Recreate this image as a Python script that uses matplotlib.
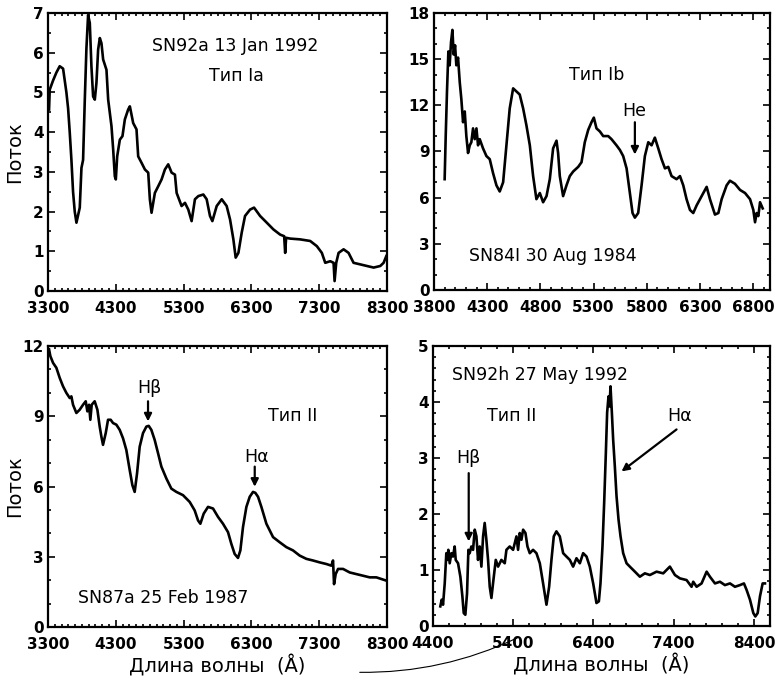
import matplotlib.pyplot as plt
from matplotlib.ticker import MultipleLocator, FixedLocator
from matplotlib.patches import FancyArrowPatch

# SN92a 13 Jan 1992, Тип Ia
wl_92a = [3315, 3325, 3374, 3423, 3472, 3522, 3571, 3596, 3620, 3645, 3669, 3694, 3719,
          3768, 3793, 3817, 3842, 3866, 3891, 3916, 3940, 3965, 3990, 4014, 4039, 4064,
          4088, 4113, 4162, 4187, 4236, 4261, 4285, 4300, 4320, 4359, 4398, 4433, 4482,
          4507, 4556, 4605, 4630, 4679, 4729, 4778, 4802, 4827, 4876, 4926, 4975, 5024,
          5073, 5123, 5172, 5197, 5270, 5320, 5369, 5418, 5467, 5517, 5591, 5640, 5689,
          5724, 5788, 5862, 5935, 5985, 6034, 6068, 6108, 6157, 6206, 6280, 6339, 6428,
          6527, 6625, 6724, 6783, 6798, 6812, 6871, 7019, 7167, 7265, 7339, 7389, 7463,
          7512, 7527, 7551, 7586, 7660, 7733, 7807, 7906, 8004, 8103, 8201, 8250, 8290]
fl_92a = [4.57, 5.07, 5.3, 5.5, 5.66, 5.6, 5.0, 4.6, 4.0, 3.3, 2.5, 2.0, 1.72,
          2.1, 3.1, 3.3, 4.8, 6.1, 6.95, 6.75, 5.66, 4.9, 4.82, 5.24, 6.08, 6.37,
          6.24, 5.83, 5.57, 4.82, 4.15, 3.56, 2.89, 2.81, 3.39, 3.81, 3.9, 4.32, 4.57,
          4.65, 4.23, 4.07, 3.39, 3.23, 3.06, 2.98, 2.31, 1.97, 2.47, 2.64, 2.81, 3.06,
          3.19, 2.98, 2.93, 2.47, 2.14, 2.22, 2.05, 1.76, 2.31, 2.39, 2.43, 2.31, 1.89,
          1.76, 2.14, 2.31, 2.14, 1.8, 1.3, 0.84, 0.96, 1.47, 1.89, 2.05, 2.1, 1.89,
          1.72, 1.55, 1.42, 1.38, 0.96, 1.34, 1.32, 1.3, 1.26, 1.13, 0.96, 0.71, 0.75,
          0.71, 0.25, 0.71, 0.96, 1.05, 0.96, 0.71, 0.67, 0.63, 0.59, 0.63, 0.71, 0.88]

# SN84I 30 Aug 1984, Тип Ib
wl_84i = [3900, 3910, 3922, 3935, 3947, 3960, 3973, 3985, 3998, 4010, 4026, 4042, 4057,
          4073, 4089, 4104, 4120, 4136, 4151, 4167, 4183, 4199, 4214, 4230, 4261, 4293,
          4324, 4355, 4387, 4418, 4450, 4481, 4512, 4544, 4575, 4606, 4638, 4669, 4701,
          4732, 4763, 4795, 4826, 4858, 4889, 4920, 4952, 4967, 4983, 5014, 5046, 5077,
          5109, 5156, 5187, 5218, 5250, 5281, 5303, 5328, 5360, 5391, 5438, 5469, 5516,
          5548, 5579, 5611, 5642, 5667, 5689, 5720, 5752, 5783, 5815, 5846, 5877, 5909,
          5940, 5972, 6003, 6034, 6081, 6113, 6144, 6175, 6207, 6238, 6270, 6317, 6364,
          6395, 6442, 6474, 6505, 6552, 6583, 6630, 6678, 6725, 6772, 6803, 6819, 6834,
          6850, 6866, 6891]
fl_84i = [7.2, 10.0, 12.9, 15.5, 14.6, 16.1, 16.9, 15.3, 15.9, 14.6, 15.1, 13.5, 12.4,
          10.9, 11.6, 10.0, 8.9, 9.4, 9.6, 10.5, 9.8, 10.5, 9.4, 9.8, 9.2, 8.7,
          8.5, 7.6, 6.8, 6.4, 7.0, 9.4, 11.8, 13.1, 12.9, 12.7, 11.8, 10.7, 9.4,
          7.4, 5.9, 6.3, 5.7, 6.1, 7.2, 9.2, 9.7, 8.9, 7.4, 6.1, 6.8, 7.4,
          7.7, 8.0, 8.3, 9.6, 10.4, 10.9, 11.2, 10.5, 10.3, 10.0, 10.0, 9.8, 9.4,
          9.1, 8.7, 7.9, 6.3, 5.0, 4.7, 5.0, 6.8, 8.7, 9.6, 9.4, 9.9, 9.2,
          8.5, 7.9, 8.0, 7.4, 7.2, 7.4, 6.8, 5.9, 5.2, 5.0, 5.5, 6.1, 6.7,
          5.9, 4.9, 5.0, 5.9, 6.8, 7.1, 6.9, 6.5, 6.3, 5.9, 5.2, 4.4, 5.0,
          4.8, 5.7, 5.3]

# SN87a 25 Feb 1987, Тип II
wl_87a = [3315, 3334, 3374, 3423, 3472, 3521, 3570, 3620, 3644, 3669, 3718, 3767, 3816,
          3856, 3880, 3905, 3924, 3944, 3988, 4028, 4062, 4087, 4111, 4151, 4185, 4224,
          4259, 4308, 4357, 4406, 4455, 4505, 4544, 4578, 4613, 4652, 4701, 4751, 4785,
          4824, 4873, 4923, 4972, 5046, 5119, 5193, 5291, 5390, 5463, 5513, 5547, 5596,
          5660, 5734, 5808, 5881, 5955, 6004, 6053, 6102, 6137, 6176, 6226, 6275, 6324,
          6358, 6398, 6447, 6521, 6619, 6717, 6816, 6914, 7012, 7111, 7209, 7307, 7406,
          7479, 7504, 7519, 7543, 7578, 7652, 7750, 7848, 7947, 8045, 8143, 8217, 8291]
fl_87a = [11.86, 11.57, 11.28, 11.07, 10.64, 10.28, 10.0, 9.78, 9.85, 9.49, 9.14, 9.28, 9.49,
          9.64, 9.21, 9.49, 8.85, 9.49, 9.64, 9.28, 8.56, 8.13, 7.78, 8.28, 8.85, 8.85,
          8.71, 8.64, 8.42, 8.06, 7.56, 6.7, 6.06, 5.77, 6.56, 7.7, 8.28, 8.56, 8.59,
          8.42, 7.99, 7.42, 6.85, 6.34, 5.91, 5.77, 5.63, 5.34, 4.98, 4.55, 4.41, 4.84,
          5.13, 5.06, 4.7, 4.41, 4.05, 3.55, 3.12, 2.95, 3.27, 4.27, 5.13, 5.56, 5.77,
          5.73, 5.56, 5.13, 4.41, 3.84, 3.62, 3.41, 3.27, 3.05, 2.91, 2.84, 2.76, 2.69,
          2.62, 2.84, 1.83, 2.26, 2.48, 2.48, 2.33, 2.26, 2.19, 2.12, 2.12, 2.05, 1.98]

# SN92h 27 May 1992, Тип II
wl_92h = [4491, 4508, 4525, 4546, 4566, 4579, 4591, 4608, 4629, 4649, 4670, 4683, 4712,
          4741, 4766, 4783, 4803, 4824, 4841, 4857, 4878, 4899, 4920, 4941, 4961, 4982,
          5003, 5024, 5044, 5065, 5086, 5107, 5128, 5148, 5182, 5211, 5252, 5294, 5315,
          5356, 5398, 5440, 5460, 5481, 5502, 5523, 5552, 5577, 5606, 5647, 5689, 5731,
          5772, 5814, 5847, 5876, 5905, 5938, 5980, 6022, 6063, 6105, 6146, 6188, 6230,
          6271, 6313, 6354, 6396, 6437, 6467, 6487, 6512, 6533, 6554, 6570, 6587, 6600,
          6612, 6629, 6645, 6666, 6687, 6712, 6737, 6770, 6812, 6853, 6916, 6978, 7040,
          7103, 7186, 7269, 7352, 7415, 7477, 7560, 7622, 7643, 7685, 7747, 7810, 7851,
          7914, 7976, 8038, 8101, 8163, 8225, 8275, 8309, 8350, 8392, 8417, 8446, 8475,
          8508, 8537]
fl_92h = [0.35, 0.47, 0.38, 0.76, 1.3, 1.18, 1.36, 1.12, 1.3, 1.24, 1.42, 1.18, 1.12,
          0.88, 0.53, 0.23, 0.2, 0.58, 1.36, 1.3, 1.42, 1.36, 1.72, 1.6, 1.18, 1.42,
          1.06, 1.6, 1.84, 1.54, 1.18, 0.7, 0.5, 0.76, 1.18, 1.06, 1.18, 1.12, 1.36,
          1.42, 1.36, 1.6, 1.36, 1.66, 1.54, 1.72, 1.66, 1.42, 1.3, 1.36, 1.3, 1.12,
          0.76, 0.38, 0.7, 1.18, 1.6, 1.69, 1.6, 1.3, 1.24, 1.18, 1.06, 1.21, 1.12,
          1.3, 1.24, 1.06, 0.76, 0.41, 0.44, 0.76, 1.42, 2.2, 3.09, 3.81, 4.1, 3.92,
          4.28, 3.81, 3.33, 2.85, 2.32, 1.9, 1.6, 1.3, 1.12, 1.06, 0.97, 0.88, 0.94,
          0.91, 0.97, 0.94, 1.06, 0.91, 0.85, 0.82, 0.7, 0.79, 0.7, 0.76, 0.97, 0.88,
          0.76, 0.79, 0.73, 0.76, 0.7, 0.73, 0.76, 0.64, 0.47, 0.23, 0.17, 0.23, 0.53,
          0.76, 0.76]

TXT = 12.5


def setup(ax, xlim, ylim, xmajor, xminor, ymajor, yminor):
    ax.set_xlim(*xlim)
    ax.set_ylim(*ylim)
    ax.xaxis.set_major_locator(FixedLocator(xmajor))
    ax.xaxis.set_minor_locator(MultipleLocator(xminor))
    ax.yaxis.set_major_locator(MultipleLocator(ymajor))
    ax.yaxis.set_minor_locator(MultipleLocator(yminor))
    ax.tick_params(which='both', direction='in', top=True, right=True, width=1.2)
    ax.tick_params(which='major', length=5)
    ax.tick_params(which='minor', length=2.5)
    ax.tick_params(axis='x', pad=7)
    ax.tick_params(axis='y', pad=3)
    for lab in ax.get_xticklabels() + ax.get_yticklabels():
        lab.set_fontweight('bold')
        lab.set_fontsize(11)
    for s in ax.spines.values():
        s.set_linewidth(1.6)


def arrow(ax, xy, xytext, text=None, textxy=None):
    ax.annotate('', xy=xy, xytext=xytext,
                arrowprops=dict(arrowstyle='-|>', color='k', lw=1.6, mutation_scale=11,
                                shrinkA=0, shrinkB=0))
    if text:
        ax.text(*textxy, text, ha='center', va='center', fontsize=TXT)


fig = plt.figure(figsize=(7.76, 6.86), dpi=100)

ax1 = fig.add_axes([0.0619, 0.5758, 0.4368, 0.4052])
ax1.plot(wl_92a, fl_92a, color='k', lw=1.9)
setup(ax1, (3300, 8300), (0, 7), range(3300, 8301, 1000), 100, 1, 0.5)
ax1.set_ylabel('Поток', fontsize=14)
ax1.yaxis.set_label_coords(-0.072, 0.5)
ax1.text(6058, 6.16, 'SN92a 13 Jan 1992', ha='center', va='center', fontsize=TXT)
ax1.text(6083, 5.42, 'Тип Ia', ha='center', va='center', fontsize=TXT)

ax2 = fig.add_axes([0.5593, 0.5773, 0.4330, 0.4038])
ax2.plot(wl_84i, fl_84i, color='k', lw=1.9)
setup(ax2, (3800, 6960), (0, 18), range(3800, 6801, 500), 100, 3, 1)
ax2.text(5328, 14.0, 'Тип Ib', ha='center', va='center', fontsize=TXT)
ax2.text(4920, 2.2, 'SN84I 30 Aug 1984', ha='center', va='center', fontsize=TXT)
arrow(ax2, (5689, 8.8), (5689, 10.9), 'He', (5680, 11.6))

ax3 = fig.add_axes([0.0619, 0.0860, 0.4368, 0.4096])
ax3.plot(wl_87a, fl_87a, color='k', lw=1.9)
setup(ax3, (3300, 8300), (0, 12), range(3300, 8301, 1000), 100, 3, 1)
ax3.set_ylabel('Поток', fontsize=14)
ax3.yaxis.set_label_coords(-0.072, 0.5)
ax3.set_xlabel('Длина волны  (Å)', fontsize=14, labelpad=2)
ax3.text(6914, 9.02, 'Тип II', ha='center', va='center', fontsize=TXT)
ax3.text(4996, 1.26, 'SN87a 25 Feb 1987', ha='center', va='center', fontsize=TXT)
arrow(ax3, (4775, 8.78), (4775, 9.64), 'Hβ', (4800, 10.2))
arrow(ax3, (6349, 5.99), (6349, 6.85), 'Hα', (6373, 7.27))

ax4 = fig.add_axes([0.5580, 0.0875, 0.4343, 0.4081])
ax4.plot(wl_92h, fl_92h, color='k', lw=1.9)
setup(ax4, (4400, 8600), (0, 5), range(4400, 8401, 1000), 200, 1, 0.2)
ax4.set_xlabel('Длина волны  (Å)', fontsize=14, labelpad=2)
ax4.text(5731, 4.49, 'SN92h 27 May 1992', ha='center', va='center', fontsize=TXT)
ax4.text(5377, 3.75, 'Тип II', ha='center', va='center', fontsize=TXT)
arrow(ax4, (4845, 1.51), (4845, 2.73), 'Hβ', (4845, 3.0))
arrow(ax4, (6749, 2.76), (7435, 3.51), 'Hα', (7477, 3.75))

# stray pen stroke from the scanned page
fig.patches.append(FancyArrowPatch((0.46, 0.02), (0.67, 0.072), transform=fig.transFigure,
                                   arrowstyle='-', connectionstyle='arc3,rad=0.12',
                                   color='k', lw=0.8))

fig.savefig('out.png', dpi=100)
